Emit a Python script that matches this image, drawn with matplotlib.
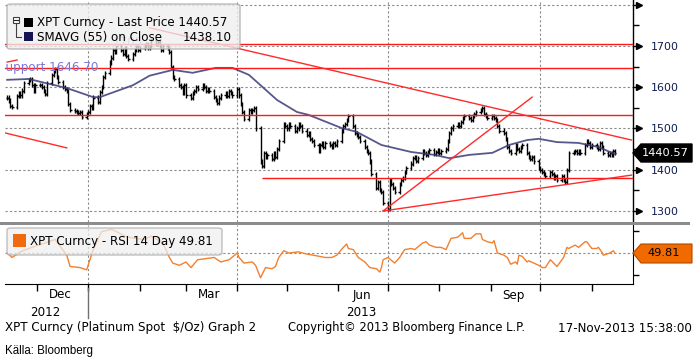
import numpy as np
import pandas as pd
import matplotlib
matplotlib.use("Agg")
import matplotlib.pyplot as plt
import matplotlib.dates as mdates
import matplotlib.transforms as mtransforms
from matplotlib.patches import FancyBboxPatch, Rectangle, Polygon
from matplotlib.lines import Line2D

# ---------------- data ----------------
close_nov12 = [1575, 1568, 1555, 1552, 1578, 1585, 1580, 1592, 1610, 1618, 1620, 1605, 1592, 1605]
close_dec12 = [1605, 1600, 1590, 1583, 1610, 1630, 1640, 1645, 1625, 1612, 1600, 1595, 1590, 1560,
               1545, 1542, 1540, 1538, 1540, 1528, 1535]
close_jan13 = [1540, 1555, 1550, 1575, 1565, 1588, 1600, 1625, 1635, 1660, 1672, 1690, 1685, 1700,
               1690, 1680, 1695, 1675, 1668, 1680, 1690, 1700, 1690]
close_feb13 = [1695, 1700, 1705, 1695, 1700, 1715, 1705, 1710, 1700, 1690, 1700, 1695, 1685, 1650,
               1625, 1620, 1605, 1600, 1585, 1605]
close_mar13 = [1580, 1575, 1585, 1590, 1600, 1595, 1605, 1600, 1592, 1595, 1590, 1577, 1570, 1562,
               1575, 1580, 1585, 1578, 1590, 1585, 1580]
close_apr13 = [1595, 1580, 1560, 1540, 1522, 1545, 1540, 1545, 1550, 1500, 1420, 1410, 1440, 1430,
               1435, 1425, 1440, 1430, 1450, 1470, 1510, 1505]
close_may13 = [1500, 1510, 1505, 1495, 1500, 1510, 1505, 1495, 1485, 1490, 1475, 1470, 1460, 1445,
               1460, 1465, 1455, 1465, 1460, 1455, 1465, 1460, 1470]
close_jun13 = [1495, 1505, 1510, 1520, 1530, 1505, 1490, 1485, 1480, 1470, 1455, 1445, 1440, 1420,
               1390, 1355, 1370, 1350, 1345, 1320]
close_jul13 = [1305, 1375, 1365, 1355, 1345, 1365, 1375, 1380, 1395, 1405, 1415, 1428, 1430, 1422,
               1428, 1445, 1440, 1435, 1442, 1448, 1438, 1442, 1448]
close_aug13 = [1440, 1445, 1450, 1470, 1490, 1500, 1505, 1510, 1505, 1515, 1525, 1530, 1525, 1520,
               1530, 1535, 1540, 1545, 1550, 1535, 1530, 1525]
close_sep13 = [1530, 1525, 1520, 1505, 1495, 1490, 1475, 1455, 1445, 1440, 1460, 1450, 1445, 1455,
               1460, 1440, 1430, 1425, 1430, 1420, 1405]
close_oct13 = [1400, 1395, 1390, 1385, 1395, 1390, 1380, 1385, 1375, 1385, 1375, 1370, 1400, 1440,
               1442, 1445, 1440, 1445, 1440, 1460, 1470, 1465, 1455]
close_nov13 = [1460, 1455, 1450, 1465, 1455, 1440, 1435, 1440, 1435, 1445, 1440.57]

sma_dates = ['2012-11-13', '2012-11-26', '2012-12-19', '2013-01-04', '2013-01-08', '2013-01-28',
             '2013-02-07', '2013-02-21', '2013-03-05', '2013-03-19', '2013-03-29', '2013-04-08',
             '2013-04-25', '2013-05-07', '2013-05-14', '2013-06-03', '2013-06-12', '2013-06-27',
             '2013-07-15', '2013-07-29', '2013-08-07', '2013-08-19', '2013-09-02', '2013-09-12',
             '2013-09-23', '2013-09-30', '2013-10-11', '2013-10-24', '2013-11-05', '2013-11-15']
sma_values = [1618, 1620, 1598, 1576, 1576, 1605, 1628, 1642, 1635, 1647, 1647, 1630,
              1569, 1540, 1533, 1501, 1492, 1460, 1443, 1436, 1428, 1436, 1441, 1460,
              1472, 1475, 1467, 1465, 1455, 1438.10]

rsi_dates = ['2012-11-13', '2012-11-16', '2012-11-21', '2012-11-26', '2012-12-06', '2012-12-12',
             '2012-12-19', '2012-12-21', '2012-12-27', '2012-12-31', '2013-01-02', '2013-01-04',
             '2013-01-09', '2013-01-15', '2013-01-18', '2013-01-23', '2013-01-29', '2013-02-04',
             '2013-02-08', '2013-02-15', '2013-02-19', '2013-02-21', '2013-02-25', '2013-03-01',
             '2013-03-04', '2013-03-08', '2013-03-18', '2013-03-22', '2013-03-27', '2013-04-01',
             '2013-04-02', '2013-04-05', '2013-04-10', '2013-04-12', '2013-04-15', '2013-04-18',
             '2013-04-22', '2013-04-24', '2013-04-26', '2013-04-29', '2013-05-02', '2013-05-08',
             '2013-05-13', '2013-05-17', '2013-05-24', '2013-05-28', '2013-05-31', '2013-06-04',
             '2013-06-06', '2013-06-07', '2013-06-10', '2013-06-13', '2013-06-17', '2013-06-20',
             '2013-06-24', '2013-06-26', '2013-06-27', '2013-06-28', '2013-07-01', '2013-07-05',
             '2013-07-08', '2013-07-11', '2013-07-15', '2013-07-17', '2013-07-22', '2013-07-24',
             '2013-07-26', '2013-07-30', '2013-08-02', '2013-08-05', '2013-08-08', '2013-08-12',
             '2013-08-15', '2013-08-16', '2013-08-20', '2013-08-23', '2013-08-26', '2013-08-27',
             '2013-08-30', '2013-09-02', '2013-09-03', '2013-09-05', '2013-09-09', '2013-09-11',
             '2013-09-13', '2013-09-16', '2013-09-17', '2013-09-18', '2013-09-20', '2013-09-23',
             '2013-09-24', '2013-09-27', '2013-09-30', '2013-10-02', '2013-10-04', '2013-10-07',
             '2013-10-09', '2013-10-11', '2013-10-15', '2013-10-17', '2013-10-18', '2013-10-22',
             '2013-10-24', '2013-10-28', '2013-10-29', '2013-11-01', '2013-11-04', '2013-11-05',
             '2013-11-07', '2013-11-08', '2013-11-12', '2013-11-14', '2013-11-15']
rsi_values = [50, 46, 51, 54, 59, 62,
              48, 38, 37, 35, 44, 53,
              69, 71, 69, 65, 63, 62,
              65, 59, 46, 41, 39, 42,
              37, 44, 46, 42, 44, 50,
              46, 41, 42, 39, 28, 37,
              36, 38, 46, 52, 50, 51,
              49, 48, 46, 46, 48, 55,
              58, 54, 53, 46, 42, 37,
              36, 33, 37, 44, 46, 41,
              46, 53, 54, 53, 59, 60,
              57, 55, 55, 53, 63, 64,
              68, 63, 63, 67, 67, 62,
              60, 59, 61, 50, 48, 46,
              40, 42, 40, 48, 47, 42,
              43, 41, 39, 37, 37, 44,
              41, 38, 46, 55, 54, 57,
              55, 60, 60, 54, 54, 55,
              51, 48, 50, 52, 49.81]

flat_levels = [1705.0, 1646.70, 1533.0]
support_low = ('2013-04-16', 1380.0)
trend_lines = [
    (('2013-02-07', 1744.0), ('2013-11-25', 1472.0)),
    (('2012-11-12', 1489.0), ('2012-12-19', 1453.0)),
    (('2012-11-13', 1661.0), ('2012-11-19', 1666.0)),
    (('2013-06-28', 1300.0), ('2013-09-26', 1576.0)),
    (('2013-06-28', 1300.0), ('2013-11-25', 1387.0)),
]
price_ticks = [1300, 1400, 1500, 1600, 1700, 1800]
price_tick_labels = ['1300', '1400', '1500', '1600', '1700', '']
month_labels = [('2012-12-15', 'Dec'), ('2013-03-15', 'Mar'), ('2013-06-15', 'Jun'), ('2013-09-15', 'Sep')]
year_labels = [('2012-12-06', '2012'), ('2013-06-15', '2013')]

# ---------------- figure ----------------
W, H = 697, 357
fig = plt.figure(figsize=(W / 100, H / 100), dpi=100)
fig.patch.set_facecolor('white')
FONT = 'DejaVu Sans'
FS = 8.6


def fx(x):
    return x / W


def fy(y):
    return 1 - y / H


ax = fig.add_axes([fx(5), fy(222), fx(633) - fx(5), fy(0) - fy(222)])
axr = fig.add_axes([fx(5), fy(284), fx(633) - fx(5), fy(225) - fy(284)])

d0 = pd.Timestamp('2012-12-01')
xmin = mdates.date2num(d0 + pd.Timedelta(days=-19.3))
xmax = mdates.date2num(d0 + pd.Timedelta(days=359.9))

dates = pd.bdate_range('2012-11-13', '2013-11-15')
close = np.array(close_nov12 + close_dec12 + close_jan13 + close_feb13 + close_mar13 + close_apr13 +
                 close_may13 + close_jun13 + close_jul13 + close_aug13 + close_sep13 + close_oct13 +
                 close_nov13, dtype=float)
n = min(len(dates), len(close))
xd = mdates.date2num(dates[:n])
close = close[:n]
opn = np.r_[close[0], close[:-1]]

grid_kw = dict(color='#8a8a8a', lw=0.8, ls=(0, (2, 2)), zorder=1)
grid_dates = ['2013-01-01', '2013-04-01', '2013-07-01', '2013-10-01']

# ---- main panel ----
for v in price_ticks:
    ax.axhline(v, **grid_kw)
for g in grid_dates:
    ax.axvline(mdates.date2num(pd.Timestamp(g)), **grid_kw)

ax.vlines(xd, np.minimum(opn, close) - 5, np.maximum(opn, close) + 5, color='black', lw=1.0, zorder=3)
ax.hlines(opn, xd - 0.9, xd, color='black', lw=1.0, zorder=3)
ax.hlines(close, xd, xd + 0.9, color='black', lw=1.0, zorder=3)

ax.plot(mdates.date2num(pd.to_datetime(sma_dates)), sma_values, color='#3a3a78', lw=1.3, alpha=0.85, zorder=4)

for lv in flat_levels:
    ax.axhline(lv, color='#ff1a1a', lw=1.0, zorder=5)
ax.hlines(support_low[1], mdates.date2num(pd.Timestamp(support_low[0])), xmax, color='#ff1a1a', lw=1.0, zorder=5)
for (a, b) in trend_lines:
    ax.plot([mdates.date2num(pd.Timestamp(a[0])), mdates.date2num(pd.Timestamp(b[0]))], [a[1], b[1]],
            color='#ff2a2a', lw=1.0, zorder=5)

ax.text(mdates.date2num(d0 + pd.Timedelta(days=-23.5)), 1648, 'Support 1646.70', color='#7878d8',
        fontsize=FS, family=FONT, va='center', ha='left', zorder=6, clip_on=True)
ax.text(mdates.date2num(d0 + pd.Timedelta(days=46)), 1708, '1705', color='#9a9ae0',
        fontsize=FS, family=FONT, va='center', ha='left', zorder=6, clip_on=True)

ax.set_xlim(xmin, xmax)
ax.set_ylim(1273.3, 1811.5)
for s in ['left', 'top', 'bottom']:
    ax.spines[s].set_visible(False)
ax.spines['right'].set_linewidth(1.0)
ax.yaxis.tick_right()
ax.set_yticks(price_ticks)
ax.set_yticklabels(price_tick_labels)
ax.set_yticks([1350, 1450, 1550, 1650, 1750], minor=True)
ax.tick_params(axis='y', which='major', length=5, width=1, pad=8, labelsize=7.9, labelcolor='#0c1c50')
ax.tick_params(axis='y', which='minor', length=4, width=1)
ax.tick_params(axis='x', which='both', length=0, labelbottom=False)
ytr = ax.get_yaxis_transform()
for v in price_ticks:
    ax.plot([1.0 + 5.5 / 628], [v], marker='>', ms=5, color='black', transform=ytr, clip_on=False)
for lab in ax.get_yticklabels():
    lab.set_family(FONT)

# ---- RSI panel ----
axr.axhline(50, **grid_kw)
for g in grid_dates:
    axr.axvline(mdates.date2num(pd.Timestamp(g)), **grid_kw)
axr.plot(mdates.date2num(pd.to_datetime(rsi_dates)), rsi_values, color='#f28030', lw=1.0, zorder=3)
axr.set_xlim(xmin, xmax)
axr.set_ylim(22.4, 74.9)
for s in ['left', 'top']:
    axr.spines[s].set_visible(False)
axr.yaxis.tick_right()
axr.set_yticks([30, 70])
axr.set_yticklabels([])
axr.tick_params(axis='y', length=4, width=1)
month_starts = pd.date_range('2012-12-01', '2013-11-01', freq='MS')
axr.set_xticks(mdates.date2num(month_starts))
axr.set_xticklabels([])
axr.tick_params(axis='x', length=5, width=1, direction='out')

# month / year labels
bt = mtransforms.blended_transform_factory(axr.transData, fig.transFigure)
for d, t in month_labels:
    fig.text(mdates.date2num(pd.Timestamp(d)), fy(295), t, transform=bt, ha='center', va='center',
             fontsize=FS, family=FONT)
for d, t in year_labels:
    fig.text(mdates.date2num(pd.Timestamp(d)), fy(312), t, transform=bt, ha='center', va='center',
             fontsize=FS, family=FONT)
fig.add_artist(Line2D([mdates.date2num(pd.Timestamp('2013-01-01'))] * 2, [fy(288), fy(318)],
                      transform=bt, color='#707070', lw=1.0))

# gray separator
fig.add_artist(Rectangle((fx(0), fy(225)), fx(690), fy(222) - fy(225), transform=fig.transFigure,
                         facecolor='#8c8c8c', edgecolor='none', zorder=2))


def px_box(x0, y0, x1, y1, **kw):
    return FancyBboxPatch((fx(x0), fy(y1)), fx(x1) - fx(x0), fy(y0) - fy(y1),
                          boxstyle='round,pad=0,rounding_size=0.006', transform=fig.transFigure, **kw)


def px_rect(x0, y0, x1, y1, **kw):
    return Rectangle((fx(x0), fy(y1)), fx(x1) - fx(x0), fy(y0) - fy(y1), transform=fig.transFigure, **kw)


# main legend
fig.add_artist(px_box(7, 4, 240, 49, facecolor='#efefef', edgecolor='#a8a8a8', lw=1.0, alpha=0.78, zorder=5))
fig.add_artist(px_rect(13, 17, 19, 23, facecolor='white', edgecolor='#404040', lw=0.8, zorder=6))
fig.add_artist(Line2D([fx(14.5), fx(17.5)], [fy(20), fy(20)], transform=fig.transFigure, color='#202020', lw=0.8, zorder=7))
fig.add_artist(Line2D([fx(16), fx(16), fx(21)], [fy(23), fy(37), fy(37)], transform=fig.transFigure, color='#404040', lw=0.8, zorder=6))
fig.add_artist(px_rect(24, 18, 33, 27, facecolor='black', edgecolor='none', zorder=6))
fig.add_artist(px_rect(24, 32, 33, 41, facecolor='#141450', edgecolor='none', zorder=6))
fig.text(fx(37), fy(22.5), 'XPT Curncy - Last Price 1440.57', fontsize=FS, family=FONT, va='center', ha='left', zorder=7)
fig.text(fx(37), fy(37.5), 'SMAVG (55) on Close', fontsize=FS, family=FONT, va='center', ha='left', zorder=7)
fig.text(fx(232), fy(37.5), '1438.10', fontsize=FS, family=FONT, va='center', ha='right', zorder=7)

# RSI legend
fig.add_artist(px_box(7, 228, 222, 255, facecolor='#efefef', edgecolor='#a8a8a8', lw=1.0, alpha=0.72, zorder=5))
fig.add_artist(px_rect(13, 234, 26, 247, facecolor='#f06a10', edgecolor='none', zorder=6))
fig.text(fx(30), fy(241.5), 'XPT Curncy - RSI 14 Day 49.81', fontsize=FS, family=FONT, va='center', ha='left', zorder=7)

# value flags
fig.add_artist(Polygon([(fx(633), fy(153)), (fx(641), fy(144)), (fx(692), fy(144)), (fx(692), fy(162)), (fx(641), fy(162))],
                       closed=True, transform=fig.transFigure, facecolor='black', edgecolor='black', zorder=6))
fig.text(fx(665), fy(153.5), '1440.57', color='white', fontsize=8.2, family=FONT, va='center', ha='center', zorder=7)
fig.add_artist(Polygon([(fx(633), fy(253)), (fx(641), fy(244)), (fx(692), fy(244)), (fx(692), fy(263)), (fx(641), fy(263))],
                       closed=True, transform=fig.transFigure, facecolor='#f06a00', edgecolor='#b04a00', lw=0.8, zorder=6))
fig.text(fx(664), fy(253.5), '49.81', color='black', fontsize=8.2, family=FONT, va='center', ha='center', zorder=7)

# footer
fig.text(fx(5), fy(328), 'XPT Curncy (Platinum Spot  $/Oz) Graph 2', fontsize=FS, family=FONT, va='center', ha='left')
fig.text(fx(288), fy(328), 'Copyright\u00a9 2013 Bloomberg Finance L.P.', fontsize=8.3, family=FONT, va='center', ha='left')
fig.text(fx(692), fy(328), '17-Nov-2013 15:38:00', fontsize=FS, family=FONT, va='center', ha='right')
fig.text(fx(5), fy(351), 'K\u00e4lla: Bloomberg', fontsize=8.3, family='Liberation Sans', va='center', ha='left')

fig.savefig('out.png', dpi=100, facecolor='white')
